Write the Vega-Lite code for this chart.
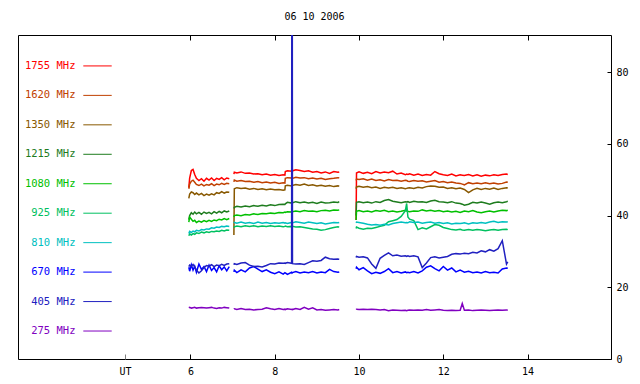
{
"$schema":"https://vega.github.io/schema/vega-lite/v6.json",
"width":593,"height":324,
"autosize":{"type":"none"},
"padding":{"left":18,"top":35,"right":29,"bottom":25},
"background":"white",
"title":{"text":"06 10 2006","font":"DejaVu Sans Mono","fontSize":10,"fontWeight":"normal","color":"black","offset":13,"anchor":"middle"},
"config":{"view":{"stroke":"black","strokeWidth":1},"font":"DejaVu Sans Mono",
"axis":{"domain":false,"grid":false,"labelFont":"DejaVu Sans Mono","labelFontSize":10,"labelColor":"black","tickColor":"black","labelFlush":false,"labelOverlap":false}},
"layer":[
{"mark":{"type":"rule","color":"#808080","strokeWidth":1},
 "encoding":{"x":{"datum":4.446,"type":"quantitative","scale":{"domain":[1.906,15.98],"nice":false,"zero":false},
 "axis":{"orient":"top","values":[6,8,10,12,14],"labels":false,"tickSize":-5,"title":null}}}},
{"data":{"values":[
{"t":5.96,"s":1,"a":47.8,"b":47.5,"c":44.8,"d":38.9,"e":38.2,"g":34.4,"h":35.0,"i":25.6,"j":25.8,"k":14.3},
{"t":5.98,"s":1,"a":50.5,"b":48.8,"c":46.0,"d":40.0,"e":39.6,"g":34.9,"h":35.6,"i":24.5,"j":26.2,"k":14.4},
{"t":6.02,"s":1,"a":52.6,"b":49.6,"c":46.6,"d":40.8,"e":39.0,"g":34.6,"h":35.3,"i":26.3,"j":25.9,"k":14.2},
{"t":6.06,"s":1,"a":52.9,"b":49.9,"c":46.4,"d":40.4,"e":38.4,"g":35.0,"h":35.7,"i":24.8,"j":26.4,"k":14.3},
{"t":6.1,"s":1,"a":51.5,"b":49.3,"c":45.9,"d":41.0,"e":38.7,"g":34.8,"h":35.5,"i":25.9,"j":25.7,"k":14.4},
{"t":6.14,"s":1,"a":50.4,"b":48.7,"c":46.3,"d":40.5,"e":38.1,"g":35.2,"h":35.9,"i":24.2,"j":24.8,"k":14.2},
{"t":6.2,"s":1,"a":49.8,"b":48.4,"c":45.8,"d":40.9,"e":38.5,"g":35.0,"h":35.7,"i":26.5,"j":24.0,"k":14.3},
{"t":6.26,"s":1,"a":50.3,"b":48.8,"c":46.2,"d":40.4,"e":38.2,"g":35.4,"h":36.1,"i":25.0,"j":24.6,"k":14.4},
{"t":6.32,"s":1,"a":49.6,"b":48.3,"c":45.6,"d":41.0,"e":38.6,"g":35.2,"h":36.0,"i":25.8,"j":25.5,"k":14.3},
{"t":6.38,"s":1,"a":50.4,"b":48.7,"c":46.0,"d":40.6,"e":38.3,"g":35.5,"h":36.3,"i":24.4,"j":26.1,"k":14.2},
{"t":6.44,"s":1,"a":49.9,"b":48.5,"c":45.7,"d":40.9,"e":38.7,"g":35.3,"h":36.2,"i":26.2,"j":25.9,"k":14.3},
{"t":6.5,"s":1,"a":50.5,"b":48.9,"c":46.1,"d":40.5,"e":38.4,"g":35.6,"h":36.6,"i":24.7,"j":26.3,"k":14.4},
{"t":6.56,"s":1,"a":49.8,"b":48.4,"c":45.8,"d":41.1,"e":38.8,"g":35.5,"h":36.5,"i":25.5,"j":25.8,"k":14.2},
{"t":6.62,"s":1,"a":50.4,"b":48.8,"c":46.4,"d":40.7,"e":38.6,"g":35.7,"h":36.8,"i":24.3,"j":26.2,"k":14.1},
{"t":6.68,"s":1,"a":50.1,"b":48.6,"c":46.2,"d":41.2,"e":39.0,"g":35.6,"h":36.7,"i":26.0,"j":26.0,"k":14.3},
{"t":6.74,"s":1,"a":50.6,"b":49.0,"c":46.7,"d":40.8,"e":38.8,"g":35.9,"h":37.0,"i":24.9,"j":26.4,"k":14.2},
{"t":6.8,"s":1,"a":50.0,"b":48.7,"c":46.3,"d":41.3,"e":39.2,"g":35.7,"h":36.9,"i":25.7,"j":26.1,"k":14.4},
{"t":6.86,"s":1,"a":50.5,"b":49.0,"c":46.6,"d":41.0,"e":38.9,"g":36.0,"h":37.1,"i":24.6,"j":26.5,"k":14.3},
{"t":6.92,"s":1,"a":50.3,"b":48.9,"c":46.5,"d":41.3,"e":39.2,"g":35.9,"h":37.0,"i":25.8,"j":26.6,"k":14.2},
{"t":7.03,"s":2,"a":51.6,"b":49.4,"c":34.6,"d":42.0,"e":39.6,"g":36.6,"h":37.9,"i":24.3,"j":26.3,"k":13.9},
{"t":7.04,"s":2,"a":52.1,"b":49.9,"c":47.5,"d":42.3,"e":40.0,"g":36.9,"h":38.1,"i":24.8,"j":26.6,"k":14.0},
{"t":7.1,"s":2,"a":51.9,"b":49.6,"c":47.8,"d":42.6,"e":40.2,"g":37.1,"h":37.9,"i":24.1,"j":26.4,"k":13.8},
{"t":7.2,"s":2,"a":52.2,"b":49.8,"c":47.6,"d":42.4,"e":40.0,"g":36.9,"h":38.2,"i":24.9,"j":26.8,"k":14.1},
{"t":7.3,"s":2,"a":51.8,"b":49.5,"c":47.7,"d":42.7,"e":40.3,"g":37.2,"h":37.9,"i":24.3,"j":26.9,"k":13.8},
{"t":7.4,"s":2,"a":51.9,"b":49.6,"c":47.4,"d":42.5,"e":40.2,"g":37.0,"h":38.1,"i":25.4,"j":26.2,"k":13.9},
{"t":7.5,"s":2,"a":51.6,"b":49.3,"c":47.6,"d":42.8,"e":40.5,"g":37.2,"h":37.8,"i":25.8,"j":25.8,"k":13.7},
{"t":7.6,"s":2,"a":51.7,"b":49.5,"c":47.3,"d":42.6,"e":40.3,"g":36.9,"h":38.2,"i":25.1,"j":25.9,"k":13.8},
{"t":7.7,"s":2,"a":51.4,"b":49.2,"c":47.5,"d":42.9,"e":40.6,"g":37.1,"h":37.9,"i":24.4,"j":25.7,"k":13.9},
{"t":7.8,"s":2,"a":51.6,"b":49.4,"c":47.2,"d":42.7,"e":40.5,"g":37.0,"h":38.1,"i":24.9,"j":26.1,"k":14.3},
{"t":7.9,"s":2,"a":51.3,"b":49.1,"c":47.4,"d":43.0,"e":40.7,"g":37.2,"h":37.8,"i":24.2,"j":26.6,"k":14.0},
{"t":8.0,"s":2,"a":51.5,"b":49.3,"c":47.2,"d":42.8,"e":40.6,"g":37.0,"h":38.0,"i":23.8,"j":26.5,"k":13.8},
{"t":8.1,"s":2,"a":51.2,"b":49.0,"c":47.3,"d":43.1,"e":40.9,"g":37.1,"h":37.9,"i":24.3,"j":26.8,"k":14.1},
{"t":8.2,"s":2,"a":51.4,"b":49.2,"c":47.1,"d":43.2,"e":40.8,"g":36.9,"h":38.1,"i":23.7,"j":26.7,"k":13.8},
{"t":8.24,"s":2,"a":51.3,"b":49.1,"c":47.2,"d":43.1,"e":41.0,"g":37.0,"h":37.9,"i":24.1,"j":26.8,"k":13.9},
{"t":8.25,"s":2,"a":52.3,"b":50.4,"c":48.3,"d":43.3,"e":40.9,"g":37.1,"h":38.0,"i":24.0,"j":26.7,"k":13.8},
{"t":8.3,"s":2,"a":52.5,"b":50.6,"c":48.5,"d":43.7,"e":41.1,"g":36.9,"h":37.8,"i":23.6,"j":26.9,"k":14.0},
{"t":8.4,"s":2,"a":52.4,"b":50.5,"c":48.3,"d":43.5,"e":41.0,"g":37.0,"h":38.1,"i":24.2,"j":26.7,"k":13.8},
{"t":8.41,"s":2,"a":52.6,"b":50.6,"c":48.5,"d":43.8,"e":41.2,"g":36.9,"h":37.9,"i":24.0,"j":200,"k":13.9},
{"t":8.42,"s":2,"a":52.5,"b":50.4,"c":48.4,"d":43.6,"e":41.1,"g":37.0,"h":38.0,"i":24.1,"j":26.6,"k":13.8},
{"t":8.5,"s":2,"a":52.8,"b":50.7,"c":48.7,"d":43.9,"e":41.3,"g":36.8,"h":38.3,"i":24.4,"j":26.5,"k":14.1},
{"t":8.6,"s":2,"a":52.6,"b":50.5,"c":48.5,"d":43.6,"e":41.1,"g":36.9,"h":38.1,"i":24.0,"j":26.6,"k":13.8},
{"t":8.7,"s":2,"a":52.3,"b":50.6,"c":48.8,"d":43.8,"e":41.4,"g":36.7,"h":37.9,"i":24.3,"j":26.4,"k":14.4},
{"t":8.8,"s":2,"a":52.5,"b":50.3,"c":48.4,"d":43.5,"e":41.2,"g":36.5,"h":38.2,"i":24.1,"j":26.9,"k":13.9},
{"t":8.9,"s":2,"a":52.1,"b":50.5,"c":48.6,"d":43.7,"e":41.3,"g":36.3,"h":38.0,"i":24.4,"j":27.4,"k":14.3},
{"t":9.0,"s":2,"a":52.3,"b":50.2,"c":48.3,"d":43.4,"e":41.1,"g":36.2,"h":37.8,"i":24.0,"j":27.3,"k":13.7},
{"t":9.1,"s":2,"a":51.9,"b":50.4,"c":48.5,"d":43.8,"e":41.4,"g":35.9,"h":38.0,"i":24.3,"j":27.5,"k":13.8},
{"t":9.2,"s":2,"a":52.2,"b":50.1,"c":48.2,"d":43.5,"e":41.5,"g":36.1,"h":37.7,"i":24.1,"j":28.4,"k":13.6},
{"t":9.3,"s":2,"a":51.8,"b":50.3,"c":48.4,"d":43.6,"e":41.3,"g":36.4,"h":37.9,"i":25.0,"j":28.0,"k":13.7},
{"t":9.4,"s":2,"a":52.3,"b":50.4,"c":48.1,"d":43.8,"e":41.6,"g":36.7,"h":38.1,"i":24.4,"j":27.8,"k":13.8},
{"t":9.5,"s":2,"a":52.1,"b":50.6,"c":48.3,"d":43.7,"e":41.5,"g":36.9,"h":38.0,"i":24.2,"j":27.9,"k":13.7},
{"t":9.53,"s":2,"a":52.2,"b":50.5,"c":48.2,"d":43.9,"e":41.6,"g":36.8,"h":38.1,"i":24.3,"j":27.8,"k":13.8},
{"t":9.93,"s":3,"a":38.8,"b":49.8,"c":47.5,"d":40.0,"e":38.8,"g":36.4,"h":38.0,"i":25.2,"j":28.3,"k":13.8},
{"t":9.94,"s":3,"a":51.9,"b":50.2,"c":48.0,"d":43.7,"e":41.2,"g":36.8,"h":38.2,"i":25.6,"j":28.6,"k":13.9},
{"t":10.0,"s":3,"a":52.2,"b":50.1,"c":48.2,"d":43.9,"e":41.4,"g":36.5,"h":38.1,"i":24.9,"j":28.4,"k":13.8},
{"t":10.1,"s":3,"a":51.8,"b":50.3,"c":47.9,"d":43.6,"e":41.1,"g":36.2,"h":37.9,"i":25.5,"j":28.5,"k":13.9},
{"t":10.2,"s":3,"a":52.1,"b":49.9,"c":48.1,"d":43.8,"e":41.3,"g":36.5,"h":37.6,"i":24.6,"j":28.2,"k":13.8},
{"t":10.3,"s":3,"a":51.7,"b":50.2,"c":47.8,"d":43.5,"e":41.0,"g":36.4,"h":37.4,"i":23.8,"j":26.5,"k":13.9},
{"t":10.4,"s":3,"a":52.3,"b":49.8,"c":48.0,"d":43.9,"e":41.4,"g":36.7,"h":37.5,"i":24.2,"j":25.3,"k":13.8},
{"t":10.5,"s":3,"a":51.9,"b":50.0,"c":47.6,"d":43.7,"e":41.2,"g":37.0,"h":37.3,"i":23.9,"j":28.1,"k":13.7},
{"t":10.6,"s":3,"a":52.2,"b":49.7,"c":47.9,"d":44.2,"e":41.5,"g":37.3,"h":37.6,"i":24.4,"j":28.9,"k":13.8},
{"t":10.7,"s":3,"a":52.0,"b":50.1,"c":47.7,"d":44.5,"e":41.1,"g":38.3,"h":37.4,"i":25.2,"j":29.6,"k":13.5},
{"t":10.8,"s":3,"a":52.4,"b":49.8,"c":47.9,"d":44.0,"e":41.3,"g":38.6,"h":37.8,"i":24.1,"j":28.8,"k":13.7},
{"t":10.9,"s":3,"a":51.6,"b":49.9,"c":47.6,"d":43.8,"e":41.0,"g":38.9,"h":38.0,"i":24.4,"j":29.0,"k":13.6},
{"t":11.0,"s":3,"a":51.9,"b":49.6,"c":47.8,"d":43.6,"e":41.2,"g":39.8,"h":38.2,"i":24.0,"j":28.7,"k":13.5},
{"t":11.1,"s":3,"a":51.4,"b":49.9,"c":47.5,"d":43.9,"e":41.5,"g":41.4,"h":38.0,"i":24.3,"j":28.8,"k":13.6},
{"t":11.13,"s":3,"a":51.6,"b":49.8,"c":47.6,"d":43.8,"e":41.3,"g":43.4,"h":38.1,"i":24.1,"j":28.6,"k":13.5},
{"t":11.16,"s":3,"a":51.5,"b":49.6,"c":47.7,"d":43.9,"e":41.2,"g":39.6,"h":38.0,"i":24.2,"j":28.8,"k":13.6},
{"t":11.2,"s":3,"a":51.7,"b":49.5,"c":47.8,"d":43.7,"e":41.1,"g":39.0,"h":38.3,"i":24.1,"j":28.6,"k":13.7},
{"t":11.3,"s":3,"a":51.3,"b":49.8,"c":47.6,"d":44.0,"e":41.3,"g":38.6,"h":38.1,"i":24.4,"j":28.8,"k":13.6},
{"t":11.4,"s":3,"a":51.6,"b":49.6,"c":47.9,"d":43.8,"e":41.2,"g":36.1,"h":38.2,"i":24.0,"j":28.5,"k":13.7},
{"t":11.5,"s":3,"a":51.2,"b":49.7,"c":47.7,"d":43.9,"e":41.6,"g":36.6,"h":37.9,"i":24.6,"j":25.5,"k":13.6},
{"t":11.6,"s":3,"a":51.5,"b":49.4,"c":48.1,"d":43.7,"e":41.3,"g":36.3,"h":38.1,"i":25.6,"j":26.8,"k":13.8},
{"t":11.7,"s":3,"a":51.3,"b":49.6,"c":48.3,"d":44.1,"e":41.5,"g":36.9,"h":38.2,"i":26.0,"j":28.3,"k":13.6},
{"t":11.8,"s":3,"a":52.3,"b":49.8,"c":48.2,"d":44.3,"e":41.2,"g":37.5,"h":37.9,"i":25.2,"j":28.5,"k":13.7},
{"t":11.9,"s":3,"a":51.7,"b":49.3,"c":47.9,"d":43.9,"e":41.4,"g":37.3,"h":38.1,"i":24.6,"j":28.2,"k":13.8},
{"t":12.0,"s":3,"a":51.4,"b":49.5,"c":48.0,"d":43.8,"e":41.1,"g":36.7,"h":37.8,"i":25.8,"j":28.4,"k":13.6},
{"t":12.1,"s":3,"a":51.2,"b":49.2,"c":47.6,"d":43.6,"e":41.3,"g":36.4,"h":38.0,"i":24.8,"j":28.6,"k":13.5},
{"t":12.2,"s":3,"a":51.6,"b":49.4,"c":47.8,"d":43.9,"e":41.0,"g":36.1,"h":37.7,"i":25.4,"j":29.2,"k":13.6},
{"t":12.3,"s":3,"a":51.1,"b":49.1,"c":47.5,"d":43.5,"e":41.2,"g":36.0,"h":37.9,"i":24.3,"j":29.4,"k":13.5},
{"t":12.4,"s":3,"a":51.4,"b":49.0,"c":47.7,"d":43.4,"e":40.9,"g":36.2,"h":37.8,"i":24.8,"j":29.3,"k":13.6},
{"t":12.45,"s":3,"a":51.3,"b":48.8,"c":47.5,"d":43.2,"e":41.1,"g":36.0,"h":37.9,"i":24.5,"j":29.4,"k":15.5},
{"t":12.5,"s":3,"a":51.2,"b":48.6,"c":47.3,"d":42.9,"e":41.3,"g":35.9,"h":38.0,"i":24.2,"j":29.5,"k":13.6},
{"t":12.6,"s":3,"a":51.5,"b":49.2,"c":46.4,"d":43.2,"e":41.1,"g":36.1,"h":37.7,"i":24.5,"j":29.4,"k":13.7},
{"t":12.7,"s":3,"a":51.1,"b":48.9,"c":47.2,"d":43.7,"e":41.4,"g":35.9,"h":38.0,"i":24.1,"j":29.8,"k":13.5},
{"t":12.8,"s":3,"a":51.4,"b":49.1,"c":47.6,"d":43.5,"e":41.0,"g":36.1,"h":37.9,"i":24.3,"j":29.6,"k":13.6},
{"t":12.9,"s":3,"a":51.0,"b":48.9,"c":47.3,"d":43.8,"e":40.8,"g":36.0,"h":38.1,"i":24.0,"j":30.2,"k":13.7},
{"t":13.0,"s":3,"a":51.3,"b":49.2,"c":47.6,"d":43.5,"e":41.1,"g":35.8,"h":37.9,"i":24.4,"j":29.9,"k":13.6},
{"t":13.1,"s":3,"a":51.1,"b":48.9,"c":47.4,"d":43.2,"e":41.3,"g":36.0,"h":38.2,"i":24.1,"j":30.5,"k":13.5},
{"t":13.2,"s":3,"a":51.4,"b":49.1,"c":47.7,"d":43.6,"e":41.0,"g":36.1,"h":38.4,"i":24.2,"j":30.1,"k":13.6},
{"t":13.3,"s":3,"a":51.2,"b":48.8,"c":47.3,"d":43.8,"e":41.3,"g":35.9,"h":38.1,"i":24.0,"j":30.8,"k":13.7},
{"t":13.4,"s":3,"a":51.5,"b":49.0,"c":47.6,"d":43.6,"e":41.5,"g":36.1,"h":38.3,"i":25.1,"j":33.0,"k":13.6},
{"t":13.5,"s":3,"a":51.6,"b":49.4,"c":47.8,"d":43.9,"e":41.4,"g":36.2,"h":38.2,"i":25.4,"j":26.5,"k":13.7},
{"t":13.53,"s":3,"a":51.5,"b":49.3,"c":47.7,"d":44.0,"e":41.5,"g":36.1,"h":38.3,"i":25.3,"j":27.1,"k":13.6}
]},
 "transform":[{"fold":["a","b","c","d","e","g","h","i","j","k"],"as":["key","value"]}],
 "mark":{"type":"line","strokeWidth":1.5,"clip":true},
 "encoding":{
  "x":{"field":"t","type":"quantitative","scale":{"domain":[1.906,15.98],"nice":false,"zero":false},
   "axis":{"orient":"bottom","values":[4.446,6,8,10,12,14],"format":"d","labelExpr":"datum.value < 5 ? 'UT' : datum.label","tickSize":-5,"labelPadding":12,"tickColor":{"condition":{"test":"datum.value < 5","value":"#808080"},"value":"black"},"title":null}},
  "y":{"field":"value","type":"quantitative","scale":{"domain":[0,90.4],"nice":false,"zero":false},
   "axis":{"orient":"right","values":[0,20,40,60,80],"tickSize":-4,"labelPadding":9,"title":null}},
  "color":{"field":"key","type":"nominal","scale":{"domain":["a","b","c","d","e","g","h","i","j","k"],"range":["#ff0000","#c04000","#885800","#1e7c1e","#00c000","#00c060","#00c0c0","#0000ff","#2020c0","#8000c0"]},"legend":null},
  "detail":{"field":"s","type":"nominal"}
 }},
{"data":{"name":"leg","values":[{"key":"a","label":"1755 MHz"},{"key":"b","label":"1620 MHz"},{"key":"c","label":"1350 MHz"},{"key":"d","label":"1215 MHz"},{"key":"e","label":"1080 MHz"},{"key":"g","label":"925 MHz"},{"key":"h","label":"810 MHz"},{"key":"i","label":"670 MHz"},{"key":"j","label":"405 MHz"},{"key":"k","label":"275 MHz"}]},
 "mark":{"type":"text","align":"right","baseline":"middle","font":"DejaVu Sans Mono","fontSize":10.5},
 "encoding":{
  "x":{"datum":3.27,"type":"quantitative","scale":{"domain":[1.906,15.98],"nice":false,"zero":false},"axis":null},
  "y":{"field":"key","type":"ordinal","scale":{"type":"point","domain":["a","b","c","d","e","g","h","i","j","k"],"padding":1.044,"align":0.525},"axis":null},
  "text":{"field":"label"},
  "color":{"field":"key","type":"nominal","legend":null}
 }},
{"data":{"name":"leg2","values":[{"key":"a"},{"key":"b"},{"key":"c"},{"key":"d"},{"key":"e"},{"key":"g"},{"key":"h"},{"key":"i"},{"key":"j"},{"key":"k"}]},
 "mark":{"type":"rule","strokeWidth":1},
 "encoding":{
  "x":{"datum":3.456,"type":"quantitative","scale":{"domain":[1.906,15.98],"nice":false,"zero":false},"axis":null},
  "x2":{"datum":4.13},
  "y":{"field":"key","type":"ordinal","scale":{"type":"point","domain":["a","b","c","d","e","g","h","i","j","k"],"padding":1.044,"align":0.525},"axis":null},
  "color":{"field":"key","type":"nominal","legend":null}
 }}
],
"resolve":{"scale":{"y":"independent"},"axis":{"x":"independent","y":"independent"}}
}
